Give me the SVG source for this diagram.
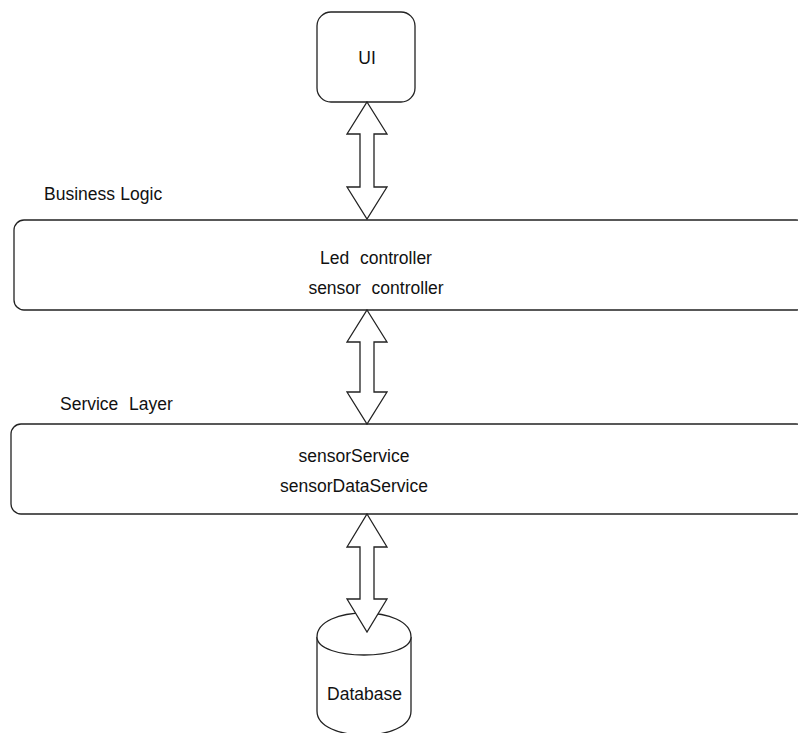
<svg xmlns="http://www.w3.org/2000/svg" width="798" height="733" viewBox="0 0 798 733">
<style>
.box{fill:#fff;stroke:#222;stroke-width:1.3}
.arr{fill:#fff;stroke:#222;stroke-width:1.3;stroke-linejoin:miter}
text{font-family:"Liberation Sans",Arial,Helvetica,sans-serif;font-size:17.5px;fill:#111;white-space:pre;word-spacing:0.5px}
.c{text-anchor:middle}
</style>
<rect width="798" height="733" fill="#fff"/>
<g id="ui">
<rect class="box" x="317" y="12" width="98" height="90" rx="14"/>
<text class="c" x="367" y="64">UI</text>
</g>
<g id="business-logic-label">
<text x="44" y="200">Business Logic</text>
</g>
<g id="business-logic">
<rect class="box" x="14" y="220" width="792" height="90" rx="10"/>
<text class="c" x="376" y="264" xml:space="preserve">Led  controller</text>
<text class="c" x="376" y="294" xml:space="preserve">sensor  controller</text>
</g>
<g id="service-layer-label">
<text x="60" y="410" xml:space="preserve">Service  Layer</text>
</g>
<g id="service-layer">
<rect class="box" x="11" y="424" width="795" height="90" rx="10"/>
<text class="c" x="354" y="462">sensorService</text>
<text class="c" x="354" y="492">sensorDataService</text>
</g>
<g id="database">
<path class="box" d="M317,637 C317,605 411,605 411,637 L411,711 C411,743 317,743 317,711 Z"/>
<path class="box" d="M317,637 C317,661 411,661 411,637" fill="none"/>
<text class="c" x="364.5" y="700">Database</text>
</g>
<g id="connectors">
<polygon class="arr" points="367,102 387,134 374,134 374,187 387,187 367,219 347,187 360,187 360,134 347,134"/>
<polygon class="arr" points="367,310 387,342 374,342 374,392 387,392 367,424 347,392 360,392 360,342 347,342"/>
<polygon class="arr" points="367,514 387,547 374,547 374,599 387,599 367,632 347,599 360,599 360,547 347,547"/>
</g>
</svg>
